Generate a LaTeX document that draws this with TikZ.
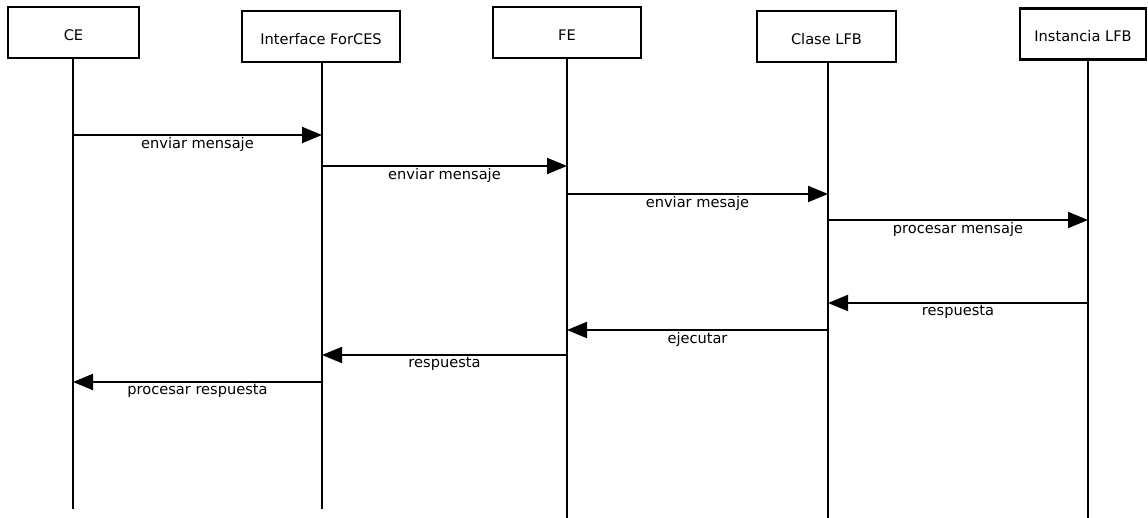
\documentclass[tikz,border=0pt]{standalone}
\usepackage{fontspec}
\setmainfont{DejaVu Sans}
\usetikzlibrary{arrows.meta}
\begin{document}
\begin{tikzpicture}[x=1pt,y=-1pt,
  actor/.style={draw,line width=2.2pt,minimum width=#1,minimum height=51pt,inner sep=0pt,
    text height=16pt,text depth=0pt,font=\fontsize{14.6}{17}\selectfont},
  lifeline/.style={line width=2pt},
  msg/.style={line width=2pt,-{Triangle[length=20pt,width=16pt]}},
  lbl/.style={midway,yshift=-9pt,inner sep=0pt,font=\fontsize{14.6}{17}\selectfont}]
\useasboundingbox (0,0) rectangle (1148,518);

% participants
\node[actor=131pt] (ce)  at (73.5,32.5)  {CE};
\node[actor=158pt] (ifc) at (321,36.5)   {Interface ForCES};
\node[actor=148pt] (fe)  at (567,32.5)   {FE};
\node[actor=139pt] (cls) at (826.5,36.5) {Clase LFB};
\node[actor=126pt] (ins) at (1083,34)    {Instancia LFB};

% lifeline ends
\coordinate (ceE)  at (73,509);
\coordinate (ifcE) at (322,509);
\coordinate (feE)  at (567,518);
\coordinate (clsE) at (828,518);
\coordinate (insE) at (1088,518);

\draw[lifeline] (ce.south -| ceE) -- (ceE);
\draw[lifeline] (ifc.south -| ifcE) -- (ifcE);
\draw[lifeline] (fe.south -| feE) -- (feE);
\draw[lifeline] (cls.south -| clsE) -- (clsE);
\draw[lifeline] (ins.south -| insE) -- (insE);

% requests
\draw[msg] (ceE |- 0,135) -- (ifcE |- 0,135) node[lbl] {enviar mensaje};
\draw[msg] (ifcE |- 0,166) -- (feE |- 0,166) node[lbl] {enviar mensaje};
\draw[msg] (feE |- 0,194) -- (clsE |- 0,194) node[lbl] {enviar mesaje};
\draw[msg] (clsE |- 0,220) -- (insE |- 0,220) node[lbl] {procesar mensaje};

% replies
\draw[msg] (insE |- 0,303) -- (clsE |- 0,303) node[lbl] {respuesta};
\draw[msg] (clsE |- 0,330) -- (feE |- 0,330) node[lbl] {ejecutar};
\draw[msg] (feE |- 0,355) -- (ifcE |- 0,355) node[lbl] {respuesta};
\draw[msg] (ifcE |- 0,382) -- (ceE |- 0,382) node[lbl] {procesar respuesta};
\end{tikzpicture}
\end{document}
